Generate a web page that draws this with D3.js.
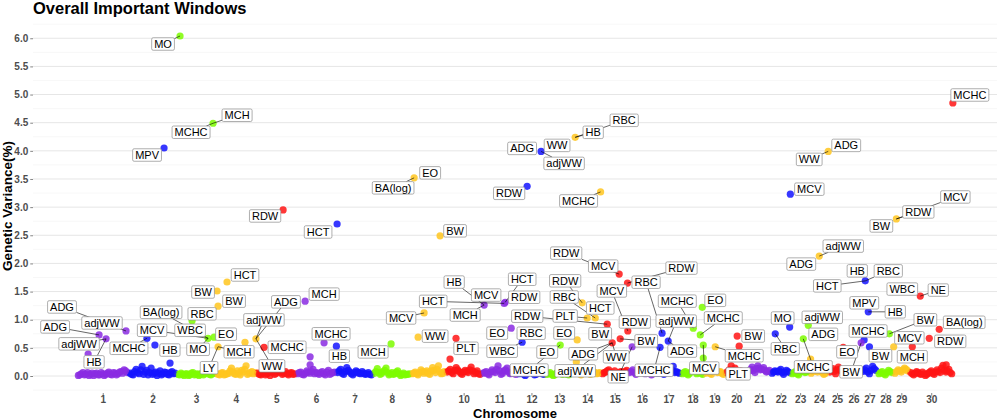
<!DOCTYPE html>
<html><head><meta charset="utf-8">
<script src="https://cdn.jsdelivr.net/npm/d3@7"></script>
<style>
html,body{margin:0;padding:0;background:#fff;}
svg{display:block;font-family:"Liberation Sans",Arial,sans-serif;}
</style></head>
<body><svg id="chart" width="1000" height="419"></svg>
<script>
// ---------------- DATA ----------------
const chromosomes = d3.range(1, 31).map(String);
const chromLengthMb = [156,144,117,123,120,120,111,114,105,108,108,84,84,84,81,84,75,69,63,69,69,60,57,57,51,48,48,48,48,132];

// background windows (genetic variance %, evenly spaced windows per chromosome)
const backgroundValues = [
 [0.01,0.04,0.02,0.06,0.03,0.01,0.05,0.02,0.04,0.03,0.07,0.02,0.05,0.04,0.08,0.11,0.06],
 [0.05,0.02,0.12,0.04,0.17,0.07,0.02,0.14,0.05,0.01,0.09,0.04,0.06,0.02,0.08,0.05],
 [0.03,0.05,0.01,0.04,0.02,0.06,0.03,0.01,0.05,0.04,0.07,0.02,0.05],
 [0.04,0.02,0.06,0.03,0.05,0.14,0.04,0.09,0.02,0.07,0.18,0.05,0.08,0.06],
 [0.05,0.02,0.07,0.04,0.01,0.09,0.05,0.12,0.03,0.08,0.02,0.06,0.04],
 [0.04,0.07,0.02,0.09,0.05,0.12,0.06,0.03,0.08,0.02,0.10,0.05,0.07],
 [0.06,0.12,0.03,0.15,0.07,0.02,0.09,0.05,0.08,0.03,0.06,0.02],
 [0.05,0.13,0.03,0.08,0.14,0.02,0.06,0.04,0.09,0.01,0.05,0.03,0.04],
 [0.04,0.07,0.02,0.11,0.05,0.09,0.03,0.15,0.06,0.18,0.04,0.08],
 [0.07,0.12,0.04,0.15,0.08,0.03,0.10,0.06,0.16,0.04,0.09,0.03],
 [0.05,0.08,0.02,0.11,0.06,0.18,0.03,0.09,0.14,0.04,0.07,0.03],
 [0.04,0.07,0.01,0.06,0.09,0.02,0.05,0.08,0.03],
 [0.03,0.06,0.01,0.05,0.08,0.03,0.07,0.02,0.05],
 [0.05,0.09,0.02,0.07,0.11,0.03,0.08,0.04,0.06],
 [0.04,0.07,0.11,0.03,0.09,0.02,0.08,0.05,0.10],
 [0.06,0.11,0.03,0.08,0.13,0.04,0.09,0.02,0.07],
 [0.05,0.09,0.03,0.12,0.07,0.17,0.08,0.05],
 [0.04,0.08,0.02,0.07,0.11,0.04,0.09,0.03],
 [0.05,0.09,0.03,0.13,0.06,0.08,0.03],
 [0.06,0.11,0.03,0.14,0.07,0.09,0.04,0.08],
 [0.09,0.16,0.06,0.18,0.11,0.15,0.07,0.10],
 [0.05,0.09,0.07,0.12,0.03,0.10,0.06],
 [0.04,0.08,0.02,0.11,0.06,0.09],
 [0.05,0.10,0.07,0.13,0.03,0.08],
 [0.07,0.13,0.04,0.16,0.09,0.05],
 [0.06,0.11,0.03,0.09,0.07],
 [0.08,0.14,0.04,0.17,0.10],
 [0.04,0.08,0.02,0.10,0.06],
 [0.05,0.11,0.07,0.14,0.09],
 [0.06,0.02,0.08,0.04,0.07,0.01,0.05,0.09,0.03,0.11,0.06,0.19,0.07,0.12,0.04]
];
// second pass of windows (interleaved between the first ones)
const backgroundValues2 = [
 [0.02,0.06,0.03,0.01,0.05,0.04,0.02,0.06,0.01,0.05,0.03,0.06,0.02,0.07,0.05,0.09],
 [0.03,0.08,0.06,0.11,0.03,0.10,0.06,0.03,0.07,0.05,0.02,0.07,0.03,0.06,0.04],
 [0.02,0.03,0.04,0.01,0.05,0.02,0.04,0.03,0.02,0.06,0.03,0.04],
 [0.03,0.05,0.02,0.04,0.09,0.07,0.03,0.05,0.10,0.12,0.03,0.06,0.04],
 [0.03,0.05,0.02,0.06,0.07,0.03,0.08,0.06,0.05,0.04,0.05,0.03],
 [0.06,0.03,0.05,0.07,0.08,0.04,0.05,0.06,0.04,0.07,0.03,0.06],
 [0.09,0.05,0.08,0.10,0.04,0.06,0.07,0.04,0.05,0.04,0.03],
 [0.08,0.06,0.05,0.10,0.06,0.04,0.03,0.07,0.04,0.03,0.02,0.03],
 [0.05,0.04,0.06,0.08,0.07,0.05,0.09,0.10,0.12,0.07,0.05],
 [0.09,0.06,0.10,0.11,0.05,0.07,0.08,0.11,0.09,0.06,0.04],
 [0.06,0.04,0.07,0.08,0.12,0.09,0.05,0.11,0.07,0.05,0.04],
 [0.05,0.03,0.04,0.07,0.05,0.03,0.06,0.04],
 [0.04,0.03,0.02,0.06,0.05,0.04,0.03,0.04],
 [0.07,0.04,0.05,0.08,0.06,0.05,0.06,0.05],
 [0.06,0.09,0.06,0.05,0.04,0.06,0.07,0.08],
 [0.08,0.06,0.05,0.10,0.07,0.06,0.05,0.04],
 [0.07,0.05,0.08,0.09,0.11,0.06,0.06],
 [0.06,0.04,0.05,0.09,0.07,0.06,0.05],
 [0.07,0.05,0.08,0.09,0.07,0.05],
 [0.08,0.06,0.09,0.10,0.08,0.06,0.05],
 [0.12,0.10,0.13,0.14,0.12,0.10,0.08],
 [0.07,0.08,0.09,0.06,0.07,0.08],
 [0.06,0.04,0.07,0.08,0.07],
 [0.08,0.09,0.10,0.06,0.05],
 [0.10,0.08,0.11,0.12,0.07],
 [0.08,0.06,0.05,0.08],
 [0.11,0.07,0.10,0.13],
 [0.06,0.04,0.06,0.08],
 [0.08,0.09,0.11,0.12],
 [0.04,0.05,0.06,0.03,0.04,0.03,0.07,0.05,0.07,0.08,0.14,0.10,0.09,0.06]
];

// important windows
const hitChrom = [3,3,2,5,7,9,9,12,14,12,14,24,22,30,29,24,27,30,27,30,30,28,29,27,30,27,26,25,22,22,23,23,20,20,19,18,18,18,18,17,17,17,16,15,15,15,15,15,15,14,14,14,14,13,12,11,11,11,11,10,9,9,8,7,6,6,5,4,4,4,4,4,4,3,3,3,2,2,2,1,1,1,1,6,6,10,14,20,30,18,24];
const hitPosMb = [10.6,110,106.5,80.7,3.2,10,88,71,5.6,29,82,56,59,131,9,29,11.5,33,20.5,90,60,36,1,8,9,24,47,44,57,13.6,53,38,37,19,34,67,64,58,37,36.5,18,12,12,33,57,80,18,54,79,26.6,66,41.7,11.6,44.6,14,89,71,68,7.7,31,22,40,54.7,1,84,27,23.5,122,89,8,35,5,8,46.8,95,113,55,79,124.5,148,67,88,34,42,42,13,9,43,111,67,3];
const hitVariance = [6.04,4.49,4.05,2.95,2.70,3.52,2.49,3.99,4.24,3.37,3.27,3.99,3.23,4.85,2.79,2.13,1.69,1.42,1.14,0.83,0.67,0.75,0.52,0.64,0.52,0.52,0.59,0.51,0.87,0.75,0.90,0.66,0.71,0.18,0.52,0.55,1.22,0.73,0.85,0.62,0.76,0.51,0.52,0.59,0.66,0.80,0.92,1.81,1.65,1.30,1.03,1.03,0.64,0.55,0.60,0.85,1.31,1.29,1.26,0.67,0.69,1.12,0.57,0.53,0.59,1.33,0.51,0.66,0.60,0.52,1.67,1.51,1.24,0.98,0.67,0.69,0.67,0.55,0.23,0.80,0.73,0.66,0.39,0.34,0.20,0.30,0.25,0.53,0.20,0.32,0.30];

// trait labels and the window each one belongs to
const labelTrait = ['MO','MCH','MCHC','MPV','RDW','HCT','EO','BA(log)','BW','ADG','WW','adjWW','HB','RBC','RDW','MCHC','ADG','WW','MCV','MCHC','BW','RDW','MCV','ADG','adjWW','HB','RBC','HCT','WBC','NE','MPV','HB','BA(log)','RDW','MCV','BW','MCHC','MCH','BW','EO','BW','MO','RBC','adjWW','ADG','MCHC','BW','PLT','MCHC','MCV','EO','MCHC','MCHC','adjWW','ADG','RBC','MCHC','NE','BW','ADG','WW','adjWW','BW','MCV','RDW','RDW','RDW','MCV','RDW','RDW','RBC','HCT','PLT','EO','EO','MCHC','RBC','WBC','EO','HCT','RDW','HCT','HB','MCV','MCH','PLT','WW','MCV','MCH','HB','MCHC','MCH','MCHC','ADG','adjWW','WW','LY','MCH','HCT','BW','BW','RBC','BA(log)','MCV','WBC','MO','EO','MCHC','HB','ADG','adjWW','ADG','adjWW','HB'];
const labelWindow = [0,1,1,2,3,4,5,5,6,7,7,7,8,8,9,10,11,11,12,13,14,14,14,15,15,16,16,16,17,17,18,18,19,20,21,21,23,24,25,26,26,28,29,30,30,31,32,33,34,35,36,37,38,39,39,40,41,42,43,43,43,43,44,45,45,46,47,47,48,49,50,50,51,52,53,53,54,54,55,56,56,57,58,58,58,59,60,61,62,63,64,65,66,67,67,67,69,69,70,71,72,73,74,74,74,74,75,76,77,79,79,80,81,81];

// ---------------- LAYOUT (repelled label offsets, px from window) ----------------
const labelOffset = [[-17,8],[24,-8],[-22,9],[-17,7],[-18,6],[-19,8],[16,-5],[-21,10],[15,-5],[-19,-3],[16,-6],[23,12],[18,-5],[49,-17],[-18,7],[-22,9],[18,-6],[-19,8],[19,-5],[17,-8],[-15,7],[22,-7],[59,-22],[-18,8],[24,-10],[-8,-10],[23,-10],[-38,5],[-18,-7],[18,-6],[-4,-9],[27,0],[25,-7],[21,3],[20,4],[36,-14],[4,-9],[0,10],[11,9],[-14,9],[-10,29],[-7,-9],[10,15],[14,-8],[15,9],[10,28],[16,0],[7,8],[29,9],[1,23],[13,-7],[23,-17],[-16,-27],[8,-20],[14,10],[-16,-51],[-6,23],[-14,30],[-12,-9],[-29,11],[4,14],[-37,28],[26,2],[-16,-40],[7,-9],[-80,-8],[-53,-21],[-16,-8],[54,-15],[-17,-22],[-31,-21],[5,-10],[-22,-2],[-13,-7],[-13,7],[-31,25],[9,-9],[-20,9],[-14,5],[17,-23],[19,-5],[-71,-2],[-30,-23],[2,-10],[-19,10],[10,10],[17,-1],[-23,5],[-18,8],[3,10],[7,-9],[19,-7],[23,0],[30,-37],[8,-19],[16,27],[-9,21],[21,5],[18,-7],[-14,1],[16,-5],[10,-7],[-47,-26],[-56,-8],[-18,-8],[-10,11],[12,-3],[-18,10],[15,5],[-64,-24],[-24,-8],[-44,-8],[-27,5],[-12,23]];

// ---------------- CHART ----------------
const W = 1000, H = 419;
const M = {left: 33, right: 3, top: 19, bottom: 26};
const palette = ['#8A2BE2', '#1414FF', '#7CFC00', '#FFC61E', '#FF1414'];
const chromStart = [];
chromLengthMb.reduce((acc, L, i) => { chromStart[i] = acc; return acc + L; }, 0);
const genomeLen = d3.sum(chromLengthMb);

const bg = [];
backgroundValues.forEach((vals, ci) => {
  const n = vals.length;
  vals.forEach((v, k) => bg.push({chr: ci + 1, cum: chromStart[ci] + chromLengthMb[ci] * (k + 0.5) / n, v}));
});
backgroundValues2.forEach((vals, ci) => {
  const n = backgroundValues[ci].length;
  vals.forEach((v, k) => bg.push({chr: ci + 1, cum: chromStart[ci] + chromLengthMb[ci] * (k + 1) / n, v}));
});
const hits = hitChrom.map((c, i) => ({chr: c, cum: chromStart[c - 1] + hitPosMb[i], v: hitVariance[i]}));

const xExp = genomeLen * 0.05;
const x = d3.scaleLinear().domain([-xExp, genomeLen + xExp]).range([M.left, W - M.right]);
const yMax = d3.max(hits, d => d.v), yMin = 0;
const yExp = (yMax - yMin) * 0.05;
const y = d3.scaleLinear().domain([yMin - yExp, yMax + yExp]).range([H - M.bottom, M.top]);

const svg = d3.select('#chart');

// grid
const minorTicks = d3.range(-0.25, 6.5, 0.5).filter(t => t >= y.domain()[0] && t <= y.domain()[1]);
const majorTicks = d3.range(0, 6.01, 0.5);
svg.append('g').selectAll('line').data(minorTicks).join('line')
  .attr('x1', M.left).attr('x2', W - M.right)
  .attr('y1', d => y(d)).attr('y2', d => y(d))
  .attr('stroke', '#f1f1f1').attr('stroke-width', 0.6);
svg.append('g').selectAll('line').data(majorTicks).join('line')
  .attr('x1', M.left).attr('x2', W - M.right)
  .attr('y1', d => y(d)).attr('y2', d => y(d))
  .attr('stroke', '#e6e6e6').attr('stroke-width', 1);

// axes
const yAxis = d3.axisLeft(y).tickValues(majorTicks).tickFormat(d3.format('.1f')).tickSize(2.75).tickPadding(2);
const gy = svg.append('g').attr('transform', `translate(${M.left},0)`).call(yAxis);
gy.select('.domain').remove();
gy.selectAll('line').attr('stroke', '#333').attr('stroke-width', 0.6);
gy.selectAll('text').attr('fill', '#4d4d4d').attr('font-weight', 'bold').attr('font-size', 10)
  .attr('font-family', '"Liberation Sans",Arial,sans-serif');

const centers = chromosomes.map((c, i) => chromStart[i] + chromLengthMb[i] / 2);
const xAxis = d3.axisBottom(x).tickValues(centers).tickFormat((d, i) => chromosomes[i]).tickSize(2.75).tickPadding(0.5);
const gx = svg.append('g').attr('transform', `translate(0,${H - M.bottom})`).call(xAxis);
gx.select('.domain').remove();
gx.selectAll('line').attr('stroke', '#333').attr('stroke-width', 0.6);
gx.selectAll('text').attr('fill', '#4d4d4d').attr('font-weight', 'bold').attr('font-size', 10)
  .attr('font-family', '"Liberation Sans",Arial,sans-serif');

// titles
svg.append('text').attr('x', M.left).attr('y', 14).attr('font-size', 16.5).attr('font-weight', 'bold')
  .attr('fill', '#000').text('Overall Important Windows');
svg.append('text').attr('x', (M.left + W - M.right) / 2).attr('y', 417.5).attr('text-anchor', 'middle')
  .attr('font-size', 13).attr('font-weight', 'bold').attr('fill', '#000').text('Chromosome');
svg.append('text').attr('transform', `translate(12,${(M.top + H - M.bottom) / 2}) rotate(-90)`)
  .attr('text-anchor', 'middle').attr('font-size', 13.5).attr('font-weight', 'bold').attr('fill', '#000')
  .text('Genetic Variance(%)');

// points
const R = 3.6;
svg.append('g').selectAll('circle').data(bg).join('circle')
  .attr('cx', d => x(d.cum)).attr('cy', d => y(d.v)).attr('r', R)
  .attr('fill', d => palette[(d.chr - 1) % 5]).attr('fill-opacity', 0.85);
svg.append('g').selectAll('circle').data(hits).join('circle')
  .attr('cx', d => x(d.cum)).attr('cy', d => y(d.v)).attr('r', R)
  .attr('fill', d => palette[(d.chr - 1) % 5]).attr('fill-opacity', 0.85);

// labels
const FS = 11;
const measure = svg.append('text').attr('font-size', FS).attr('visibility', 'hidden');
const labels = labelTrait.map((t, i) => {
  const h = hits[labelWindow[i]];
  measure.text(t);
  const w = measure.node().getComputedTextLength() + 5;
  const hh = 12.5;
  const px = x(h.cum), py = y(h.v);
  const cx = px + labelOffset[i][0], cy = py + labelOffset[i][1];
  return {t, px, py, cx, cy, w, hh};
});
measure.remove();

function edgePoint(l) {
  const dx = l.px - l.cx, dy = l.py - l.cy;
  const sx = dx === 0 ? Infinity : (l.w / 2) / Math.abs(dx);
  const sy = dy === 0 ? Infinity : (l.hh / 2) / Math.abs(dy);
  const s = Math.min(sx, sy);
  if (s >= 1) return null;
  return [l.cx + dx * s, l.cy + dy * s];
}
const segG = svg.append('g');
labels.forEach(l => {
  const e = edgePoint(l);
  if (!e) return;
  const len = Math.hypot(e[0] - l.px, e[1] - l.py);
  if (len < 6) return;
  segG.append('line').attr('x1', l.px).attr('y1', l.py).attr('x2', e[0]).attr('y2', e[1])
    .attr('stroke', '#000').attr('stroke-width', 0.6);
});
const lg = svg.append('g').selectAll('g').data(labels).join('g');
lg.append('rect').attr('x', d => d.cx - d.w / 2).attr('y', d => d.cy - d.hh / 2)
  .attr('width', d => d.w).attr('height', d => d.hh).attr('rx', 1.5)
  .attr('fill', '#fff').attr('stroke', '#8c8c8c').attr('stroke-width', 0.7);
lg.append('text').attr('x', d => d.cx).attr('y', d => d.cy + 4).attr('text-anchor', 'middle')
  .attr('font-size', FS).attr('fill', '#000').text(d => d.t);
</script></body></html>
